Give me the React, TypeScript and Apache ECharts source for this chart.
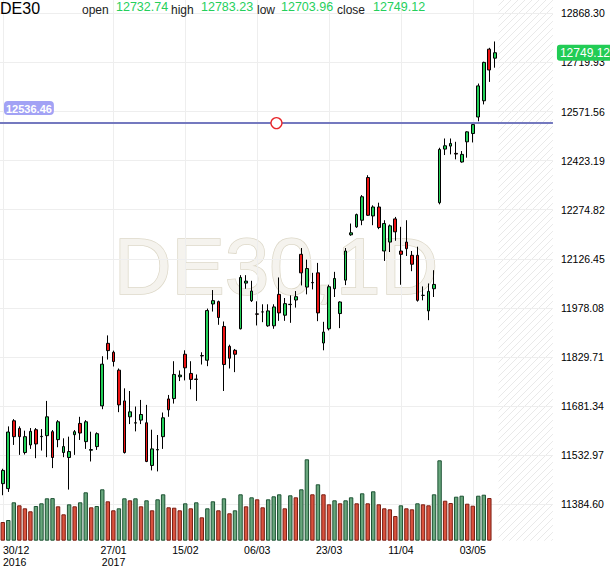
import React, { useEffect, useRef } from "react";
import * as echarts from "echarts";

// ---------- data ----------
const symbolName = "DE30";
const periodName = "1D";

const dates = [
  "30/12/2016",
  "02/01/2017", "03/01/2017", "04/01/2017", "05/01/2017", "06/01/2017",
  "09/01/2017", "10/01/2017", "11/01/2017", "12/01/2017", "13/01/2017",
  "16/01/2017", "17/01/2017", "18/01/2017", "19/01/2017", "20/01/2017",
  "23/01/2017", "24/01/2017", "25/01/2017", "26/01/2017", "27/01/2017",
  "30/01/2017", "31/01/2017", "01/02/2017", "02/02/2017", "03/02/2017",
  "06/02/2017", "07/02/2017", "08/02/2017", "09/02/2017", "10/02/2017",
  "13/02/2017", "14/02/2017", "15/02/2017", "16/02/2017", "17/02/2017",
  "20/02/2017", "21/02/2017", "22/02/2017", "23/02/2017", "24/02/2017",
  "27/02/2017", "28/02/2017", "01/03/2017", "02/03/2017", "03/03/2017",
  "06/03/2017", "07/03/2017", "08/03/2017", "09/03/2017", "10/03/2017",
  "13/03/2017", "14/03/2017", "15/03/2017", "16/03/2017", "17/03/2017",
  "20/03/2017", "21/03/2017", "22/03/2017", "23/03/2017", "24/03/2017",
  "27/03/2017", "28/03/2017", "29/03/2017", "30/03/2017", "31/03/2017",
  "03/04/2017", "04/04/2017", "05/04/2017", "06/04/2017", "07/04/2017",
  "10/04/2017", "11/04/2017", "12/04/2017", "13/04/2017", "18/04/2017",
  "19/04/2017", "20/04/2017", "21/04/2017", "24/04/2017", "25/04/2017",
  "26/04/2017", "27/04/2017", "28/04/2017", "02/05/2017", "03/05/2017",
  "04/05/2017", "05/05/2017", "08/05/2017", "09/05/2017",
];

const opens = [
  11447, 11432, 11637, 11614, 11541, 11564, 11610, 11589, 11592, 11604,
  11580, 11541, 11526, 11595, 11629, 11574, 11548, 11559, 11682, 11871,
  11844, 11790, 11697, 11649, 11630, 11639, 11631, 11502, 11549, 11589,
  11703, 11704, 11770, 11838, 11780, 11763, 11833, 11820, 11990, 11997,
  11922, 11862, 11850, 11915, 12053, 12000, 11960, 11966, 11924, 11924,
  12019, 11956, 11988, 12002, 12140, 12041, 12054, 12084, 11872, 11915,
  12036, 11961, 12062, 12199, 12223, 12243, 12372, 12256, 12283, 12150,
  12177, 12247, 12150, 12177, 12137, 12137, 12016, 11969, 12036, 12296,
  12458, 12467, 12445, 12419, 12480, 12505, 12555, 12604, 12760, 12732.74,
];
const highs = [
  11492, 11620, 11642, 11620, 11607, 11615, 11615, 11612, 11697, 11609,
  11639, 11584, 11589, 11609, 11649, 11639, 11604, 11602, 11832, 11895,
  11849, 11795, 11735, 11727, 11680, 11700, 11685, 11610, 11594, 11662,
  11715, 11817, 11789, 11850, 11817, 11777, 11844, 11976, 12032, 12000,
  11937, 11867, 11854, 12077, 12077, 12060, 11998, 11989, 11989, 11989,
  12070, 12008, 12016, 12029, 12159, 12124, 12084, 12114, 11936, 12048,
  12087, 11998, 12159, 12233, 12263, 12319, 12379, 12288, 12296, 12243,
  12230, 12253, 12223, 12243, 12150, 12163, 12043, 12052, 12092, 12462,
  12490, 12490, 12480, 12452, 12512, 12537, 12656, 12722, 12764, 12783.23,
];
const lows = [
  11412, 11422, 11564, 11534, 11535, 11552, 11524, 11547, 11527, 11494,
  11557, 11527, 11429, 11534, 11579, 11552, 11514, 11549, 11672, 11822,
  11801, 11663, 11538, 11627, 11605, 11627, 11512, 11487, 11484, 11552,
  11649, 11689, 11757, 11759, 11732, 11697, 11807, 11802, 11967, 11927,
  11727, 11795, 11784, 11913, 12036, 11996, 11925, 11935, 11921, 11915,
  11939, 11939, 11933, 11979, 12046, 12019, 12034, 11938, 11850, 11910,
  12011, 11917, 12047, 12196, 12220, 12228, 12256, 12228, 12216, 12120,
  12147, 12181, 12048, 12135, 12089, 11997, 12001, 11941, 12011, 12291,
  12440, 12442, 12427, 12417, 12432, 12478, 12542, 12593, 12661, 12703.96,
];
const closes = [
  11487, 11603, 11589, 11589, 11589, 11605, 11567, 11590, 11649, 11526,
  11634, 11559, 11544, 11604, 11600, 11634, 11550, 11598, 11808, 11849,
  11816, 11685, 11541, 11664, 11631, 11656, 11514, 11552, 11550, 11646,
  11670, 11777, 11775, 11797, 11762, 11762, 11834, 11970, 12000, 11949,
  11807, 11826, 11838, 12070, 12059, 12029, 11959, 11966, 11969, 11981,
  11963, 11991, 11989, 12012, 12084, 12097, 12055, 11963, 11905, 12042,
  12067, 11996, 12150, 12205, 12260, 12314, 12258, 12283, 12221, 12233,
  12226, 12208, 12140, 12157, 12110, 12001, 12016, 12028, 12049, 12457,
  12468, 12475, 12443, 12442, 12510, 12532, 12649, 12720, 12697, 12749.12,
];
// relative volume (last, current day: not shown)
const volumes: (number | null)[] = [
  18.7, 20.7, 38.4, 35.4, 32.4, 29.4, 34.7, 37.4, 42.4, 42.6,
  34.4, 26.4, 36.4, 34.4, 38.4, 48.4, 33.4, 34.7, 51.4, 39.4,
  30.4, 32.4, 42.4, 40.4, 42.4, 34.4, 40.4, 30.4, 41.4, 46.4,
  33.4, 33.0, 30.4, 37.4, 32.4, 38.4, 23.4, 32.4, 39.4, 30.4,
  42.4, 27.4, 30.4, 46.4, 34.4, 43.4, 41.4, 33.4, 41.4, 44.4,
  46.4, 32.4, 45.4, 43.4, 51.4, 81.4, 46.4, 56.4, 46.4, 36.4,
  40.4, 37.4, 40.4, 43.4, 37.4, 47.4, 37.4, 49.4, 36.4, 32.4,
  31.4, 24.7, 35.4, 32.4, 31.4, 37.4, 36.4, 35.4, 46.4, 80.4,
  40.0, 37.7, 44.0, 45.0, 37.0, 35.0, 45.0, 46.0, 42.7, null,
];
const labelledDays = [0, 20, 33, 46, 59, 72, 85];
const futureSlots = 10;
const priceAxisMin = 11384.6;
const priceAxisMax = 12908.5;
const priceStep = 148.37;
const levelPrice = 12536.46;

// ---------- layout / style ----------
const FONT = "Liberation Sans, Arial, sans-serif";
const BAND = 5.54;
const PLOT_LEFT = -1.07;
const NCAT = dates.length + futureSlots;
const PLOT_W = BAND * NCAT;
const PRICE_H = 504.3;
const VOL_BOTTOM = 540.7;
const VOL_H = 100;
const GREEN = "#21cf57";
const RED = "#ec1313";
const TXT_GREEN = "#25cf5c";

function makeHatch() {
  const c = document.createElement("canvas");
  c.width = 7;
  c.height = 7;
  const g = c.getContext("2d")!;
  g.strokeStyle = "#e9e9e9";
  g.lineWidth = 1;
  g.beginPath();
  g.moveTo(0, 7);
  g.lineTo(7, 0);
  g.moveTo(-1, 1);
  g.lineTo(1, -1);
  g.moveTo(6, 8);
  g.lineTo(8, 6);
  g.stroke();
  return c;
}

export default function App() {
  const ref = useRef<HTMLDivElement>(null);

  useEffect(() => {
    const el = ref.current!;
    const chart = echarts.init(el, null, { renderer: "svg" });

    const cats = [
      ...dates,
      ...Array.from({ length: futureSlots }, (_, k) => "future" + k),
    ];
    const candleData = dates.map((_, i) => [opens[i], closes[i], lows[i], highs[i]]);
    const volData = volumes.map((v, i) => {
      if (v == null) return "-";
      const prev = i > 0 ? volumes[i - 1] : null;
      const up = prev != null && v > prev;
      return {
        value: v,
        itemStyle: {
          color: up ? "#68a67c" : "#d9523e",
          borderColor: up ? "#1d5334" : "#7a1d12",
        },
      };
    });
    const last = dates.length - 1;
    const isLabelled = (idx: number) => labelledDays.indexOf(idx) >= 0;

    const header = [
      { t: symbolName, x: 0, y: 8, size: 16, c: "#000" },
      { t: "open", x: 82, y: 10, size: 12, c: "#222" },
      { t: opens[last].toFixed(2), x: 116, y: 7, size: 12.5, c: TXT_GREEN },
      { t: "high", x: 171, y: 10, size: 12, c: "#222" },
      { t: highs[last].toFixed(2), x: 201, y: 7, size: 12.5, c: TXT_GREEN },
      { t: "low", x: 257, y: 10, size: 12, c: "#222" },
      { t: lows[last].toFixed(2), x: 281, y: 7, size: 12.5, c: TXT_GREEN },
      { t: "close", x: 337, y: 10, size: 12, c: "#222" },
      { t: closes[last].toFixed(2), x: 373, y: 7, size: 12.5, c: TXT_GREEN },
    ];

    const option: any = {
      animation: false,
      textStyle: { fontFamily: FONT },
      grid: [
        { left: PLOT_LEFT, top: 0, width: PLOT_W, height: PRICE_H },
        { left: PLOT_LEFT, top: VOL_BOTTOM - VOL_H, width: PLOT_W, height: VOL_H },
        { left: PLOT_LEFT + BAND / 2, top: 0, width: BAND * (NCAT - 1), height: VOL_BOTTOM },
      ],
      xAxis: [
        { type: "category", gridIndex: 0, data: cats, boundaryGap: true, show: false },
        { type: "category", gridIndex: 1, data: cats, boundaryGap: true, show: false },
        {
          type: "category",
          gridIndex: 2,
          data: cats,
          boundaryGap: false,
          axisLine: { show: false },
          axisTick: { show: false },
          axisLabel: {
            interval: (idx: number) => isLabelled(idx),
            alignMinLabel: "left",
            margin: 6,
            fontSize: 10.5,
            lineHeight: 12,
            color: "#000",
            fontFamily: FONT,
            formatter: (v: string, idx: number) => {
              const [d, m, y] = v.split("/");
              const pos = labelledDays.indexOf(idx);
              const prevYear = pos > 0 ? dates[labelledDays[pos - 1]].split("/")[2] : null;
              return prevYear !== y ? `${d}/${m}\n${y}` : `${d}/${m}`;
            },
          },
          splitLine: {
            show: true,
            interval: (idx: number) => isLabelled(idx),
            lineStyle: { color: "#eeeeee", width: 1 },
          },
        },
        { type: "value", gridIndex: 0, min: 0, max: 1, show: false },
      ],
      yAxis: [
        {
          type: "value",
          gridIndex: 0,
          position: "right",
          min: priceAxisMin,
          max: priceAxisMax,
          interval: priceStep,
          axisLine: { show: false },
          axisTick: { show: false },
          axisLabel: {
            margin: 8,
            fontSize: 10.5,
            color: "#000",
            fontFamily: FONT,
            showMaxLabel: false,
            formatter: (v: number) => v.toFixed(2),
          },
          splitLine: { show: true, showMaxLine: false, lineStyle: { color: "#eeeeee", width: 1 } },
        },
        { type: "value", gridIndex: 1, min: 0, max: VOL_H, show: false },
        { type: "value", gridIndex: 2, min: 0, max: 1, show: false },
      ],
      series: [
        {
          type: "bar",
          xAxisIndex: 1,
          yAxisIndex: 1,
          data: volData,
          barWidth: 4.4,
          itemStyle: { borderWidth: 1 },
          z: 1,
        },
        {
          type: "candlestick",
          xAxisIndex: 0,
          yAxisIndex: 0,
          data: candleData,
          barWidth: 3.2,
          itemStyle: {
            color: GREEN,
            color0: RED,
            borderColor: "#000",
            borderColor0: "#000",
            borderColorDoji: "#000",
            borderWidth: 1,
          },
          z: 3,
          markLine: {
            silent: true,
            symbol: ["none", "none"],
            animation: false,
            data: [
              {
                yAxis: levelPrice,
                lineStyle: { color: "#7479bf", width: 2, type: "solid" },
                label: {
                  show: true,
                  position: "insideStartTop",
                  distance: [4, 8],
                  formatter: (p: any) => Number(p.value).toFixed(2),
                  backgroundColor: "#a2a2f5",
                  color: "#fff",
                  fontWeight: "bold",
                  fontSize: 11,
                  fontFamily: FONT,
                  padding: [2, 2, 1, 2],
                  borderRadius: 4,
                },
              },
              {
                yAxis: closes[last],
                lineStyle: { color: "rgba(255,255,255,0)", width: 1, type: "solid" },
                label: {
                  show: true,
                  position: "end",
                  distance: 4,
                  opacity: 1,
                  formatter: (p: any) => Number(p.value).toFixed(2),
                  backgroundColor: "#22cc55",
                  color: "#fff",
                  fontSize: 12,
                  fontFamily: FONT,
                  padding: [2, 3, 2, 3],
                  borderRadius: 3,
                },
              },
            ],
          },
        },
        {
          type: "scatter",
          xAxisIndex: 3,
          yAxisIndex: 0,
          data: [[0.5, levelPrice]],
          symbol: "circle",
          symbolSize: 11,
          itemStyle: { color: "#fff", borderColor: "#e8262a", borderWidth: 1.3, opacity: 1 },
          silent: true,
          z: 6,
        },
      ],
      graphic: [
        {
          type: "rect",
          z: -10,
          silent: true,
          shape: {
            x: PLOT_LEFT + BAND * dates.length + 1,
            y: 0,
            width: BAND * futureSlots - 1,
            height: VOL_BOTTOM,
          },
          style: { fill: { image: makeHatch(), repeat: "repeat" } },
        },
        {
          type: "text",
          z: -9,
          silent: true,
          x: PLOT_LEFT + PLOT_W / 2,
          y: 266,
          style: {
            text: `${symbolName},${periodName}`,
            fontSize: 80,
            fontFamily: FONT,
            fill: "#f5f3ee",
            stroke: "#ddd8c8",
            lineWidth: 1.5,
            align: "center",
            verticalAlign: "middle",
          },
        },
        ...header.map((h) => ({
          type: "text",
          x: h.x,
          y: h.y,
          silent: true,
          z: 20,
          style: {
            text: h.t,
            fontSize: h.size,
            fontFamily: FONT,
            fill: h.c,
            align: "left",
            verticalAlign: "middle",
          },
        })),
      ],
    };

    chart.setOption(option);
    return () => chart.dispose();
  }, []);

  return (
    <div
      ref={ref}
      style={{ position: "fixed", left: 0, top: 0, width: 610, height: 568, background: "#fff" }}
    />
  );
}
